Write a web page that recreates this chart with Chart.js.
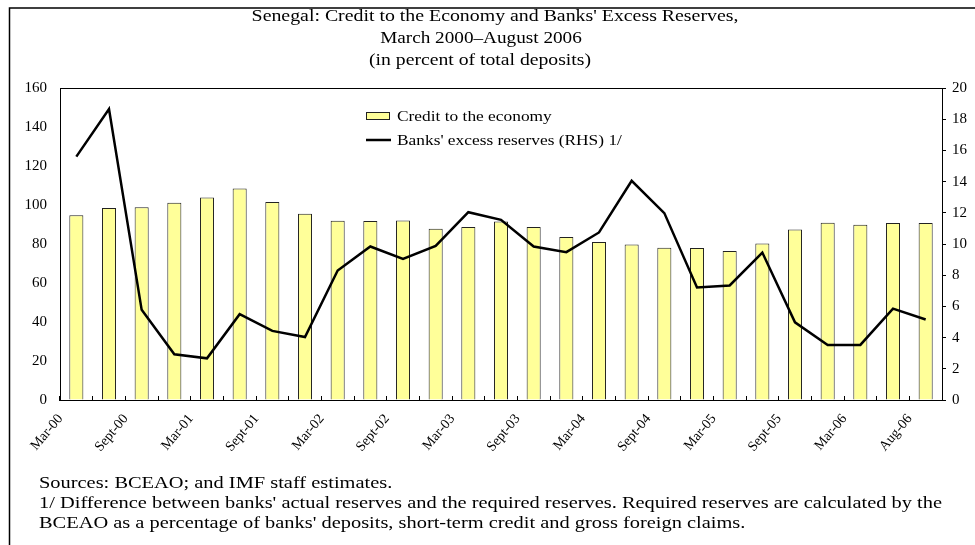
<!DOCTYPE html>
<html>
<head>
<meta charset="utf-8">
<script src="https://cdn.jsdelivr.net/npm/chart.js@4.4.0/dist/chart.umd.min.js"></script>
<style>
  html, body { margin: 0; padding: 0; background: #fff; }
  #wrap { width: 975px; height: 545px; }
</style>
</head>
<body>
<div id="wrap"><canvas id="reservesChart" width="975" height="545"></canvas></div>
<script>
// Quarterly observations, March 2000 - August 2006
const categories = ['Mar-00', 'Jun-00', 'Sept-00', 'Dec-00', 'Mar-01', 'Jun-01', 'Sept-01', 'Dec-01',
    'Mar-02', 'Jun-02', 'Sept-02', 'Dec-02', 'Mar-03', 'Jun-03', 'Sept-03', 'Dec-03',
    'Mar-04', 'Jun-04', 'Sept-04', 'Dec-04', 'Mar-05', 'Jun-05', 'Sept-05', 'Dec-05',
    'Mar-06', 'Jun-06', 'Aug-06'];

// Credit to the economy (left axis)
const creditValues = [94.7, 98.5, 98.8, 101.2, 103.9, 108.4, 101.5, 95.5, 91.9, 91.8, 92.1, 87.8,
    88.7, 91.6, 88.7, 83.6, 81.0, 79.8, 78.1, 77.9, 76.4, 80.3, 87.5, 90.9, 89.9, 90.8, 90.8];

// Banks' excess reserves (right axis)
const reserveValues = [15.6, 18.65, 5.78, 2.93, 2.67, 5.5, 4.43, 4.04, 8.3, 9.84, 9.05, 9.88,
    12.04, 11.55, 9.84, 9.48, 10.74, 14.05, 11.98, 7.21, 7.34, 9.45, 4.98, 3.53, 3.53, 5.86, 5.16];

// only every second category gets a label on the axis
const tickLabels = categories.filter((c, i) => i % 2 === 0);

const leftTicks = [0, 20, 40, 60, 80, 100, 120, 140, 160];
const rightTicks = [0, 2, 4, 6, 8, 10, 12, 14, 16, 18, 20];

const titleLines = ["Senegal: Credit to the Economy and Banks' Excess Reserves,",
    'March 2000\u2013August 2006',
    '(in percent of total deposits)'];
const noteLines = ['Sources: BCEAO; and IMF staff estimates.',
    "1/ Difference between banks' actual reserves and the required reserves. Required reserves are calculated by the",
    "BCEAO as a percentage of banks' deposits, short-term credit and gross foreign claims."];

const SERIF = '"Liberation Serif", "Times New Roman", serif';

// the source text is a bit wider than plain Times, so stretch it sideways
function stretchText(ctx, text, x, y, sx) {
    ctx.save();
    ctx.translate(x, y);
    ctx.scale(sx, 1);
    ctx.fillText(text, 0, 0);
    ctx.restore();
}

// Frame, titles, notes, legend
const decorPlugin = {
    id: 'decor',
    afterDraw(chart) {
        const ctx = chart.ctx;
        const area = chart.chartArea;
        ctx.save();

        // outer frame (open at right and bottom, as in the source)
        ctx.strokeStyle = '#000';
        ctx.lineWidth = 1.5;
        ctx.beginPath();
        ctx.moveTo(9.5, 545);
        ctx.lineTo(9.5, 8);
        ctx.lineTo(975, 8);
        ctx.stroke();

        // plot box
        ctx.lineWidth = 1;
        ctx.strokeRect(Math.round(area.left) + 0.5, Math.round(area.top) + 0.5,
            Math.round(area.right - area.left), Math.round(area.bottom - area.top));

        ctx.fillStyle = '#000';
        ctx.textAlign = 'center';
        ctx.textBaseline = 'alphabetic';
        ctx.font = '16px ' + SERIF;
        stretchText(ctx, titleLines[0], 495, 21, 1.24);
        stretchText(ctx, titleLines[1], 481, 43, 1.2);
        stretchText(ctx, titleLines[2], 480, 65, 1.23);

        ctx.textAlign = 'left';
        ctx.font = '16px ' + SERIF;
        const sx = 903 / ctx.measureText(noteLines[1]).width;
        noteLines.forEach((t, i) => stretchText(ctx, t, 39, 488 + i * 20, sx));

        // legend
        const credit = chart.data.datasets[1];
        const res = chart.data.datasets[0];
        ctx.fillStyle = credit.backgroundColor;
        ctx.fillRect(366, 112, 24, 8);
        ctx.strokeStyle = credit.borderColor;
        ctx.lineWidth = 1;
        ctx.strokeRect(366.5, 112.5, 23, 7);
        ctx.strokeStyle = res.borderColor;
        ctx.lineWidth = res.borderWidth;
        ctx.beginPath();
        ctx.moveTo(366, 140);
        ctx.lineTo(391, 140);
        ctx.stroke();
        ctx.fillStyle = '#000';
        ctx.font = '14px ' + SERIF;
        stretchText(ctx, 'Credit to the economy', 397, 121, 1.24);
        stretchText(ctx, "Banks' excess reserves (RHS) 1/", 397, 145, 1.24);
        ctx.restore();
    }
};

const ctx = document.getElementById('reservesChart').getContext('2d');

const reservesChart = new Chart(ctx, {
    type: 'bar',
    data: {
        labels: categories,
        datasets: [
            {
                type: 'line',
                label: "Banks' excess reserves (RHS) 1/",
                data: reserveValues,
                yAxisID: 'y1',
                borderColor: '#000',
                borderWidth: 2.5,
                pointRadius: 0,
                tension: 0,
                fill: false,
                order: 0
            },
            {
                label: 'Credit to the economy',
                data: creditValues,
                yAxisID: 'y',
                backgroundColor: '#FFFF99',
                borderColor: '#222',
                borderWidth: 1,
                barPercentage: 0.43,
                categoryPercentage: 1,
                order: 1
            }
        ]
    },
    options: {
        responsive: false,
        animation: false,
        layout: { padding: { top: 88, left: 0, right: 0, bottom: 0 } },
        plugins: {
            legend: { display: false },
            tooltip: { enabled: false }
        },
        scales: {
            x: {
                grid: {
                    offset: true,
                    drawOnChartArea: false,
                    tickLength: -4,
                    color: '#000'
                },
                border: { color: '#000' },
                ticks: {
                    autoSkip: false,
                    maxRotation: 50,
                    minRotation: 50,
                    padding: 15,
                    labelOffset: -16,
                    color: '#000',
                    font: { family: SERIF, size: 14 },
                    callback: function(value, index) {
                        return index % 2 === 0 ? tickLabels[index / 2] : '';
                    }
                },
                afterFit: function(scale) { scale.height = 145; }
            },
            y: {
                position: 'left',
                min: 0,
                max: 160,
                grid: { drawOnChartArea: false, drawTicks: false },
                border: { color: '#000' },
                afterBuildTicks: function(scale) {
                    scale.ticks = leftTicks.map(v => ({ value: v }));
                },
                ticks: {
                    padding: 13,
                    color: '#000',
                    font: { family: SERIF, size: 15 }
                },
                afterFit: function(scale) { scale.width = 60; }
            },
            y1: {
                position: 'right',
                min: 0,
                max: 20,
                grid: { drawOnChartArea: false, tickLength: 4, color: '#000' },
                border: { color: '#000' },
                afterBuildTicks: function(scale) {
                    scale.ticks = rightTicks.map(v => ({ value: v }));
                },
                ticks: {
                    padding: 6,
                    color: '#000',
                    font: { family: SERIF, size: 15 }
                },
                afterFit: function(scale) { scale.width = 33; }
            }
        }
    },
    plugins: [decorPlugin]
});
</script>
</body>
</html>
